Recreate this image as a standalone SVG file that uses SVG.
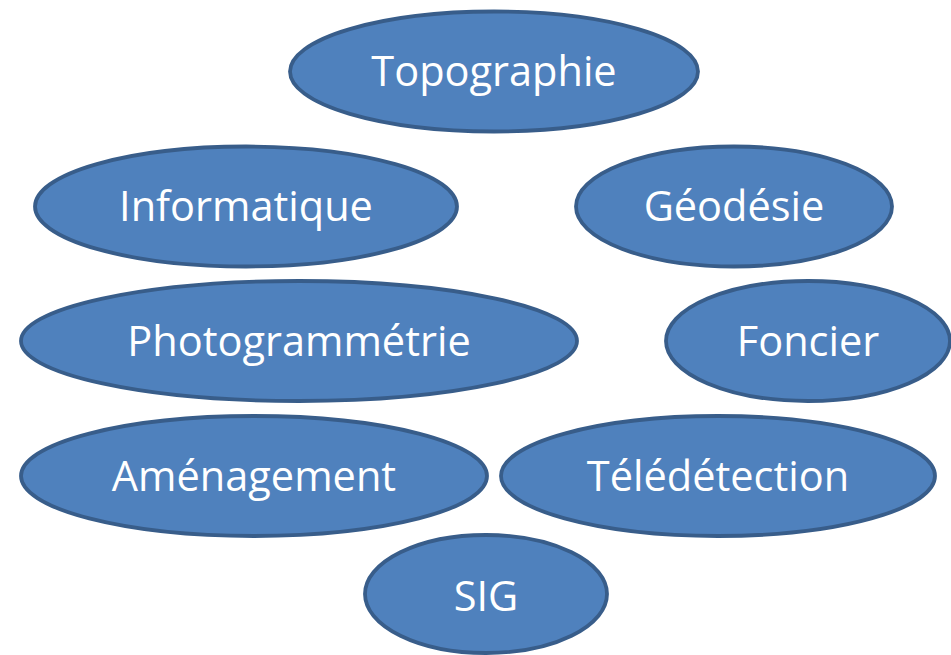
<svg xmlns="http://www.w3.org/2000/svg" width="951" height="655" viewBox="0 0 951 655">
  <style>
    .node ellipse { fill: #4f81bd; stroke: #385d8a; stroke-width: 3.8; }
    .node text { fill: #ffffff; font-family: "Open Sans", "Liberation Sans", sans-serif; font-size: 41.5px; text-anchor: middle; }
  </style>
  <rect width="951" height="655" fill="#ffffff"/>
  <g id="connectors"/>
  <g id="topographie" class="node">
    <ellipse cx="494" cy="71.5" rx="204" ry="60"/>
    <text x="494" y="86">Topographie</text>
  </g>
  <g id="informatique" class="node">
    <ellipse cx="246" cy="206.5" rx="211" ry="60"/>
    <text x="246" y="221">Informatique</text>
  </g>
  <g id="geodesie" class="node">
    <ellipse cx="734" cy="206.5" rx="158" ry="60"/>
    <text x="734" y="221">Géodésie</text>
  </g>
  <g id="photogrammetrie" class="node">
    <ellipse cx="299" cy="341" rx="278" ry="60"/>
    <text x="299" y="356">Photogrammétrie</text>
  </g>
  <g id="foncier" class="node">
    <ellipse cx="808" cy="341" rx="142" ry="60"/>
    <text x="808" y="356">Foncier</text>
  </g>
  <g id="amenagement" class="node">
    <ellipse cx="254" cy="476" rx="233" ry="60"/>
    <text x="254" y="491">Aménagement</text>
  </g>
  <g id="teledetection" class="node">
    <ellipse cx="718" cy="476" rx="217" ry="60"/>
    <text x="718" y="491">Télédétection</text>
  </g>
  <g id="sig" class="node">
    <ellipse cx="486" cy="594" rx="121" ry="59"/>
    <text x="486" y="611">SIG</text>
  </g>
</svg>
